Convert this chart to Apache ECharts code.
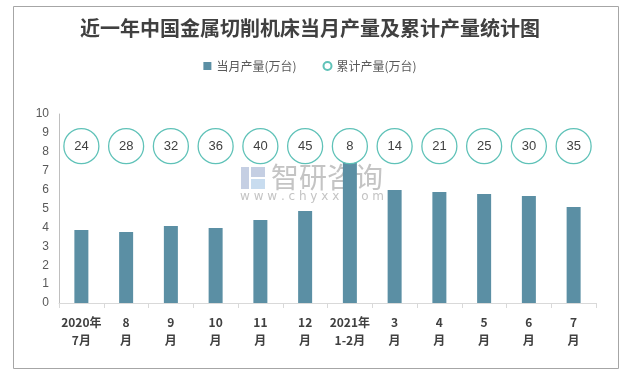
<!DOCTYPE html>
<html><head><meta charset="utf-8">
<script src="https://cdn.jsdelivr.net/npm/echarts@6/dist/echarts.min.js"></script>
<style>html,body{margin:0;padding:0;background:#fff}#c{width:620px;height:370px}</style>
</head><body><div id="c"></div>
<script>
const categories = ['2020年\n7月','8\n月','9\n月','10\n月','11\n月','12\n月','2021年\n1-2月','3\n月','4\n月','5\n月','6\n月','7\n月'];
const monthly = [3.86, 3.76, 4.07, 3.97, 4.39, 4.87, 7.57, 5.98, 5.87, 5.77, 5.66, 5.08];
const cumulative = [24, 28, 32, 36, 40, 45, 8, 14, 21, 25, 30, 35];
const yTicks = [0,1,2,3,4,5,6,7,8,9,10];
const circleRow = 8.3;

const chart = echarts.init(document.getElementById('c'));
chart.setOption({
  animation:false,
  backgroundColor:'#fff',
  title:{text:'近一年中国金属切削机床当月产量及累计产量统计图',left:'center',top:13,
    textStyle:{fontFamily:'Noto Sans CJK SC',fontSize:20,fontWeight:'bold',color:'#404040'}},
  legend:{top:55,left:'center',itemGap:26,itemWidth:8,itemHeight:8,
    textStyle:{fontFamily:'Noto Sans CJK SC',fontSize:12,color:'#595959'},
    data:[{name:'当月产量(万台)',icon:'rect'},{name:'累计产量(万台)',icon:'circle'}]},
  grid:{left:59,right:24,top:114,bottom:67},
  xAxis:{type:'category',data:categories,
    axisLine:{lineStyle:{color:'#d9d9d9',width:1}},
    axisTick:{show:true,length:5,lineStyle:{color:'#d9d9d9'}},
    axisLabel:{interval:0,margin:10,fontFamily:'Noto Sans CJK SC',fontSize:12,fontWeight:'bold',color:'#404040',lineHeight:18}},
  yAxis:{type:'value',min:yTicks[0],max:yTicks[yTicks.length-1],interval:1,
    splitLine:{show:false},
    axisLine:{show:true,lineStyle:{color:'#bfbfbf'}},
    axisTick:{show:false},
    axisLabel:{margin:10,fontFamily:'Liberation Sans',fontSize:12,color:'#595959'}},
  graphic:{elements:[
    {type:'rect',left:11,top:4,shape:{width:605,height:362},style:{fill:'none',stroke:'#a6a6a6',lineWidth:1},silent:true,z:-100},
    {type:'rect',left:241,top:167,shape:{width:8,height:22},style:{fill:'#c5cfe3'},z:-100},
    {type:'rect',left:251,top:167,shape:{width:14,height:10},style:{fill:'#c5cfe3'},z:-100},
    {type:'rect',left:251,top:179,shape:{width:14,height:10},style:{fill:'#c8dcef'},z:-100},
    {type:'text',left:271,top:163,style:{text:'智研咨询',font:'28px "Noto Sans CJK SC"',fill:'#c4c4c4'},z:-100},
    {type:'text',left:240,top:191,style:{text:'w w w . c h y x x . c o m',font:'12px "DejaVu Sans"',fill:'#c4c4c4'},z:-100}
  ]},
  series:[
    {name:'当月产量(万台)',type:'bar',data:monthly,barWidth:14,
      itemStyle:{color:'#5b8fa4'},z:2},
    {name:'累计产量(万台)',type:'scatter',symbol:'circle',symbolSize:35,
      data:categories.map((c,i)=>[c,circleRow,cumulative[i]]),
      itemStyle:{color:'#fff',borderColor:'#5fc2b8',borderWidth:1.3,opacity:1},
      label:{show:true,position:'inside',formatter:p=>p.value[2],fontFamily:'Liberation Sans',fontSize:13,color:'#404040'},
      z:3}
  ]
});
</script></body></html>
